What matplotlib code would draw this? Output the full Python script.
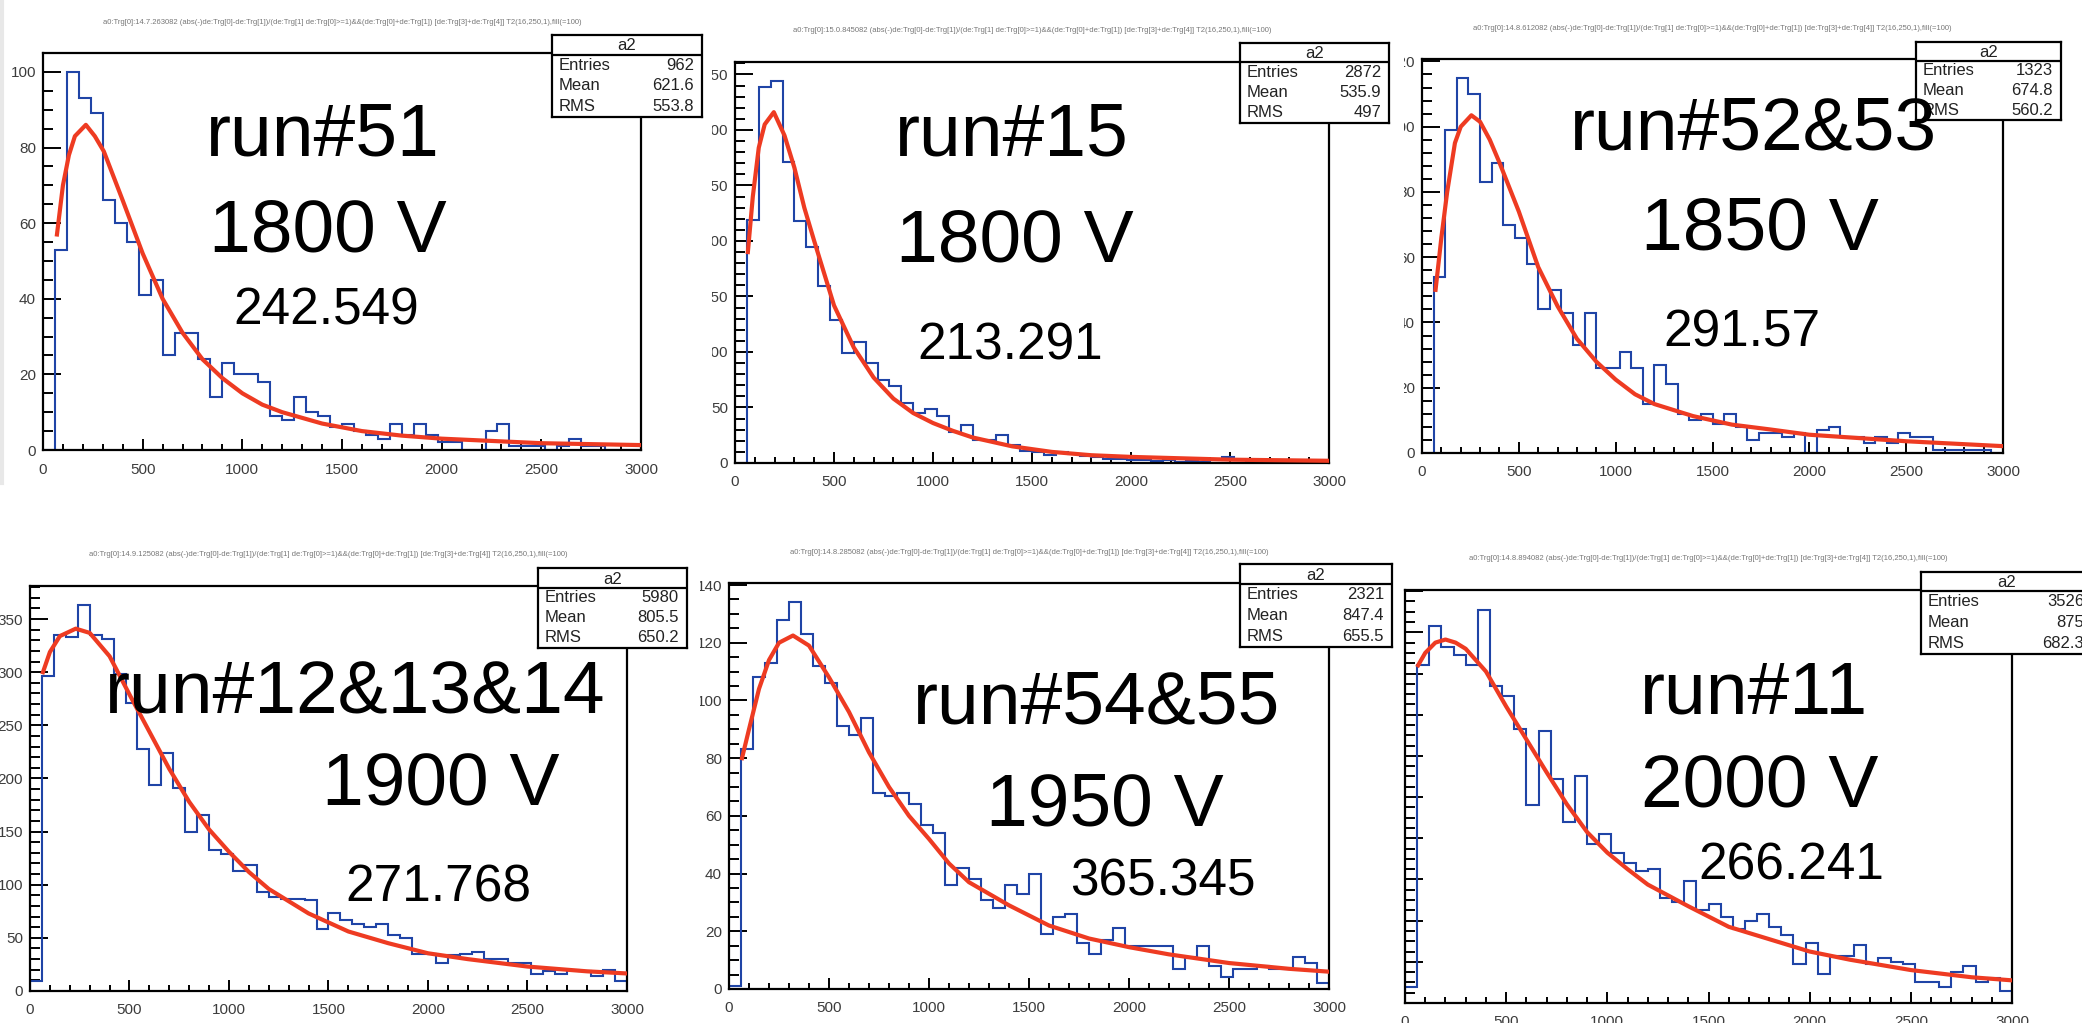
import numpy as np
import matplotlib
matplotlib.use("Agg")
import matplotlib.pyplot as plt
from matplotlib.transforms import Bbox, TransformedBbox

plt.rcParams['font.family'] = ['Liberation Sans', 'DejaVu Sans']

W, H = 2082, 1023

# ---- data (50 bins of width 60 from 0 to 3000) ----
edges = np.arange(0, 3001, 60)

run_labels = ["run#51", "run#15", "run#52&53", "run#12&13&14", "run#54&55", "run#11"]
voltages = ["1800 V", "1800 V", "1850 V", "1900 V", "1950 V", "2000 V"]
gains = ["242.549", "213.291", "291.57", "271.768", "365.345", "266.241"]

entries = ["962", "2872", "1323", "5980", "2321", "3526"]
means = ["621.6", "535.9", "674.8", "805.5", "847.4", "875"]
rmss = ["553.8", "497", "560.2", "650.2", "655.5", "682.3"]
stamps = ["14.7.263082", "15.0.845082", "14.8.612082", "14.9.125082", "14.8.285082", "14.8.894082"]

h51 = [0, 53, 100, 93, 89, 66, 60, 55, 41, 45,
       25, 31, 31, 24, 14, 23, 20, 20, 18, 9,
       8, 14, 10, 9, 6, 7, 5, 4, 3, 7,
       4, 7, 4, 2, 2, 0, 0, 5, 7, 1,
       1, 1, 0, 1, 3, 1, 1, 0, 0, 0]
h15 = [0, 219, 339, 344, 271, 218, 195, 159, 129, 99,
       109, 90, 75, 69, 54, 45, 49, 42, 28, 34,
       21, 21, 25, 16, 11, 10, 7, 10, 8, 6,
       5, 4, 4, 3, 3, 2, 3, 1, 2, 1,
       3, 5, 3, 2, 0, 1, 1, 0, 1, 1]
h5253 = [0, 54, 99, 115, 110, 83, 89, 70, 66, 58,
         44, 50, 43, 33, 43, 26, 26, 31, 26, 15,
         27, 21, 12, 10, 12, 9, 12, 8, 4, 6,
         6, 5, 6, 0, 7, 8, 5, 5, 3, 5,
         3, 6, 5, 5, 1, 1, 1, 1, 1, 0]
h121314 = [9, 296, 335, 333, 363, 335, 331, 298, 271, 228,
           194, 224, 191, 150, 166, 133, 129, 113, 119, 93,
           88, 87, 87, 86, 58, 73, 67, 63, 60, 63,
           53, 50, 35, 35, 26, 34, 35, 37, 30, 30,
           26, 26, 16, 19, 16, 20, 19, 14, 20, 9]
h5455 = [1, 83, 108, 113, 128, 134, 123, 112, 106, 91,
         88, 94, 68, 67, 68, 64, 57, 54, 36, 42,
         38, 31, 28, 36, 33, 40, 19, 25, 26, 16,
         12, 17, 21, 15, 15, 15, 15, 7, 11, 15,
         8, 4, 7, 7, 8, 7, 7, 11, 9, 2]
h11 = [8, 164, 183, 173, 169, 164, 191, 154, 149, 133,
       96, 132, 109, 88, 110, 77, 82, 73, 68, 64,
       65, 51, 49, 59, 45, 48, 42, 36, 40, 43,
       37, 33, 19, 29, 14, 23, 23, 28, 19, 22,
       20, 19, 10, 10, 8, 15, 18, 10, 12, 6]
hists = [h51, h15, h5253, h121314, h5455, h11]

# fitted curves (sampled from the red lines)
fx51 = [70, 100, 130, 160, 215, 260, 305, 400, 500, 600, 700, 800, 900, 1000, 1100, 1200, 1400, 1600, 1800, 2000, 2500, 3000]
fy51 = [57, 70, 78, 83, 86, 83, 79, 66, 52, 40, 31, 24, 19, 15, 12, 10, 7, 5, 3.8, 3, 1.8, 1.3]
fx15 = [65, 90, 120, 150, 196, 250, 300, 350, 400, 500, 600, 700, 800, 900, 1000, 1100, 1200, 1400, 1600, 1800, 2000, 2500, 3000]
fy15 = [190, 240, 284, 305, 316, 295, 266, 230, 200, 142, 104, 77, 58, 45, 36, 29, 23, 15, 10, 7, 5.5, 3, 2]
fx5253 = [70, 100, 130, 170, 200, 255, 300, 350, 400, 500, 600, 700, 800, 900, 1000, 1100, 1200, 1400, 1600, 1800, 2000, 2500, 3000]
fy5253 = [50, 66, 80, 95, 100, 103.5, 101.5, 96, 89, 74, 57, 45, 35, 28, 22.5, 18, 15, 11.3, 8.7, 7.2, 5.6, 3.6, 2.1]
fx121314 = [65, 100, 150, 230, 300, 400, 500, 600, 700, 800, 900, 1000, 1100, 1200, 1400, 1600, 1800, 2000, 2200, 2500, 2800, 3000]
fy121314 = [300, 319, 334, 341, 337, 315, 279, 244, 209, 178, 152, 131, 112, 96, 73, 56, 45, 35.5, 30, 23, 18.5, 16.5]
fx5455 = [65, 100, 150, 200, 250, 320, 400, 500, 600, 700, 800, 900, 1000, 1100, 1200, 1400, 1600, 1800, 2000, 2200, 2500, 2800, 3000]
fy5455 = [80, 90, 104, 114, 120, 122.5, 119, 108, 96, 82, 70, 60, 52, 43.5, 37, 29, 22, 17.5, 14.5, 12, 9, 7, 6]
fx11 = [65, 100, 150, 200, 250, 300, 400, 500, 600, 700, 800, 900, 1000, 1100, 1200, 1400, 1600, 1800, 2000, 2200, 2500, 2800, 3000]
fy11 = [164, 170, 175, 176.5, 175, 172, 161, 144, 128, 112, 96.5, 83, 73, 65, 57.5, 47, 37, 31, 25, 21, 16, 12.5, 11]
fits = [(fx51, fy51), (fx15, fy15), (fx5253, fy5253), (fx121314, fy121314), (fx5455, fy5455), (fx11, fy11)]

# y tick steps (major, minor)
ysteps = [(20, 5), (50, 10), (20, 4), (50, 10), (20, 5), (20, 5)]

# ---- layout in pixels of the composite ----
# frame (left, top, right, bottom)
frames = [(43, 53, 641, 450), (735, 62, 1329, 463), (1422, 59, 2003, 453),
          (30, 586, 627, 991), (729, 583, 1329, 989), (1405, 590, 2012, 1003)]
# stats box (left, top, right, bottom, header bottom)
sboxes = [(552, 35, 702, 117, 55), (1240, 43, 1389, 123, 62), (1916, 42, 2061, 120, 61),
          (538, 568, 687, 648, 588), (1240, 564, 1392, 647, 584), (1921, 572, 2092, 654, 591)]
title_y = [23, 31, 29, 555, 552, 558]
clip_left = [0, 712, 1404, 0, 700, 1401]
# text positions: (x center, baseline) for run / voltage / gain
txt_run = [(323, 155), (1012, 155), (1753, 150), (355, 713), (1097, 723), (1754, 713)]
txt_volt = [(328, 252), (1015, 262), (1760, 250), (441, 805), (1105, 825), (1760, 808)]
txt_gain = [(326, 325), (1010, 360), (1742, 347), (438, 902), (1163, 895), (1791, 880)]

BLUE = '#1f44a6'
RED = '#ee3b22'
LBL = '#3c3c3c'


def px_rect(l, t, r, b):
    return [l / W, 1 - b / H, (r - l) / W, (b - t) / H]


fig = plt.figure(figsize=(W / 100, H / 100), dpi=100)
fig.patch.set_facecolor('white')

# faint edge of the first screenshot
fig.add_artist(plt.Line2D([2 / W, 2 / W], [1 - 483 / H, 1], transform=fig.transFigure,
                          color='#e8e8e8', lw=3))

for i in range(6):
    ax = fig.add_axes(px_rect(*frames[i]))
    vals = hists[i]
    ax.stairs(vals, edges, color=BLUE, lw=1.5, zorder=2)
    ax.plot(fits[i][0], fits[i][1], color=RED, lw=3.0, zorder=3)

    ymax = 1.05 * max(vals)
    ax.set_xlim(0, 3000)
    ax.set_ylim(0, ymax)
    ax.set_xticks(np.arange(0, 3001, 500))
    ax.set_xticks(np.arange(0, 3001, 100), minor=True)
    ymaj, ymin = ysteps[i]
    ax.set_yticks(np.arange(0, ymax, ymaj))
    ax.set_yticks(np.arange(0, ymax, ymin), minor=True)
    ax.tick_params(which='both', direction='in', top=False, right=False, color='black', width=1.4)
    ax.tick_params(axis='x', which='major', length=8, labelsize=11, pad=9, labelcolor=LBL)
    ax.tick_params(axis='x', which='minor', length=4)
    ax.tick_params(axis='y', which='major', length=13, labelsize=11, pad=5, labelcolor=LBL)
    ax.tick_params(axis='y', which='minor', length=7)
    for s in ax.spines.values():
        s.set_linewidth(1.6)

    # screenshots were cropped: cut the labels at the crop edge
    cb = TransformedBbox(Bbox([[clip_left[i] / W, 0], [1, 1]]), fig.transFigure)
    for lbl in ax.get_xticklabels() + ax.get_yticklabels():
        lbl.set_clip_box(cb)
        lbl.set_clip_on(True)

    # stats box
    l, t, r, b, hb = sboxes[i]
    sa = fig.add_axes(px_rect(l, t, r, b))
    sa.set_xlim(l, r)
    sa.set_ylim(b, t)
    sa.set_xticks([])
    sa.set_yticks([])
    sa.set_facecolor('white')
    for s in sa.spines.values():
        s.set_linewidth(1.6)
    sa.axhline(hb, color='black', lw=1.6)
    sa.text((l + r) / 2, (t + hb) / 2 + 1, 'a2', ha='center', va='center', fontsize=12, color='#222')
    rh = (b - hb) / 3
    rows = [("Entries", entries[i]), ("Mean", means[i]), ("RMS", rmss[i])]
    for k, (name, v) in enumerate(rows):
        yc = hb + (k + 0.5) * rh
        sa.text(l + 7, yc, name, ha='left', va='center', fontsize=12, color='#222')
        sa.text(r - 8, yc, v, ha='right', va='center', fontsize=12, color='#222')

    # tiny fit-formula title of each screenshot
    cx = (frames[i][0] + frames[i][2]) / 2
    title = ("a0:Trg[0]:" + stamps[i] + " (abs(-)de:Trg[0]-de:Trg[1])/(de:Trg[1] de:Trg[0]>=1)"
             "&&(de:Trg[0]+de:Trg[1]) [de:Trg[3]+de:Trg[4]] T2(16,250,1),fill(=100)")
    fig.text(cx / W, 1 - title_y[i] / H, title, ha='center', va='center', fontsize=5.5, color='#777')

    # annotations written over the screenshots
    for (x, y), s, fs in [(txt_run[i], run_labels[i], 54), (txt_volt[i], voltages[i], 54),
                          (txt_gain[i], gains[i], 37)]:
        fig.text(x / W, 1 - y / H, s, ha='center', va='baseline', fontsize=fs, color='black', zorder=10)

fig.savefig("out.png", dpi=100, facecolor='white')
